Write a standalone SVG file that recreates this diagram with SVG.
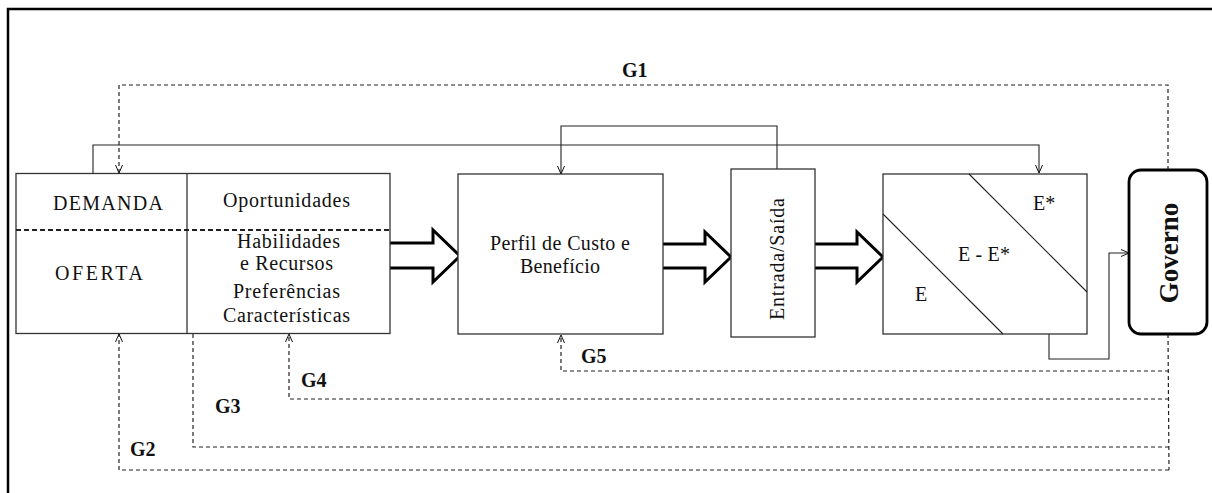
<svg xmlns="http://www.w3.org/2000/svg" width="1212" height="493" viewBox="0 0 1212 493">
<defs>
<marker id="ah" viewBox="0 0 8 8" refX="8" refY="4" markerWidth="8" markerHeight="8" markerUnits="userSpaceOnUse" orient="auto">
<path d="M0,0.5 L8,4 L0,7.5" fill="none" stroke="#111" stroke-width="1"/>
</marker>
</defs>
<style>
.box{fill:#fff;stroke:#333;stroke-width:1.3}
.t{font-family:"Liberation Serif","Times New Roman",serif;font-size:20px;fill:#111}
.g{font-family:"Liberation Serif","Times New Roman",serif;font-size:20px;font-weight:bold;fill:#111}
.solid{fill:none;stroke:#222;stroke-width:1.1}
.dash{fill:none;stroke:#222;stroke-width:1.2;stroke-dasharray:4 3}
.big{fill:#fff;stroke:#000;stroke-width:3;stroke-linejoin:miter}
</style>
<rect width="1212" height="493" fill="#fff"/>
<path d="M8,493 L8,9 L1212,9" fill="none" stroke="#000" stroke-width="2.5"/>

<g id="connectors">
<path class="solid" d="M93,173 L93,145 L1039,145 L1039,173" marker-end="url(#ah)"/>
<path class="solid" d="M777,169 L777,126 L561,126 L561,174" marker-end="url(#ah)"/>
<path class="solid" d="M1049,334 L1049,359 L1109,359 L1109,253 L1129,253" marker-end="url(#ah)"/>
<path class="dash" d="M1168,170 L1168,85 L119,85 L119,173" marker-end="url(#ah)"/>
<path class="dash" d="M1168,334 L1169,470"/>
<path class="dash" d="M1169,371 L561,371 L561,335" marker-end="url(#ah)"/>
<path class="dash" d="M1169,399 L289,399 L289,334" marker-end="url(#ah)"/>
<path class="dash" d="M1169,447 L193,447 L193,266 L217,266" marker-end="url(#ah)"/>
<path class="dash" d="M1169,470 L119,470 L119,334" marker-end="url(#ah)"/>
<path class="big" d="M390,243 L433,243 L433,230 L460,256 L433,282 L433,268 L390,268"/>
<path class="big" d="M663,244 L705,244 L705,232 L731,257 L705,282 L705,268 L663,268"/>
<path class="big" d="M815,244 L857,244 L857,232 L883,257 L857,282 L857,268 L815,268"/>
<text class="g" x="622" y="77">G1</text>
<text class="g" x="130" y="456">G2</text>
<text class="g" x="215" y="413">G3</text>
<text class="g" x="301" y="387">G4</text>
<text class="g" x="581" y="363">G5</text>
</g>

<g id="node-oferta-demanda">
<rect class="box" x="16" y="173.5" width="374" height="160"/>
<line x1="187" y1="173.5" x2="187" y2="333.5" stroke="#333" stroke-width="1.3"/>
<line x1="16" y1="230" x2="390" y2="230" stroke="#222" stroke-width="2" stroke-dasharray="5 3"/>
<text class="t" x="108" y="210" text-anchor="middle" textLength="110">DEMANDA</text>
<text class="t" x="99" y="280" text-anchor="middle" textLength="88">OFERTA</text>
<text class="t" x="286.5" y="207" text-anchor="middle" textLength="127">Oportunidades</text>
<text class="t" x="288.5" y="248" text-anchor="middle" textLength="103">Habilidades</text>
<text class="t" x="286.5" y="270" text-anchor="middle" textLength="93">e Recursos</text>
<text class="t" x="286.5" y="298" text-anchor="middle" textLength="107">Preferências</text>
<text class="t" x="286.5" y="322" text-anchor="middle" textLength="127">Características</text>
</g>

<g id="node-perfil">
<rect class="box" x="458" y="174" width="205" height="160"/>
<text class="t" x="560" y="250" text-anchor="middle" textLength="140">Perfil de Custo e</text>
<text class="t" x="560" y="273" text-anchor="middle" textLength="80">Benefício</text>
</g>

<g id="node-entrada">
<rect class="box" x="731" y="169" width="84" height="168"/>
<text class="t" transform="translate(784,259) rotate(-90)" text-anchor="middle" textLength="122">Entrada/Saída</text>
</g>

<g id="node-e">
<rect class="box" x="883" y="174" width="204" height="160"/>
<line x1="883" y1="214" x2="1003" y2="334" stroke="#222" stroke-width="1.1"/>
<line x1="969" y1="174" x2="1087" y2="292" stroke="#222" stroke-width="1.1"/>
<text class="t" x="1033" y="210">E*</text>
<text class="t" x="958" y="261" textLength="52">E - E*</text>
<text class="t" x="915" y="301">E</text>
</g>

<g id="node-governo">
<rect x="1129" y="170" width="78" height="164" rx="12" fill="#fff" stroke="#000" stroke-width="2.8"/>
<text transform="translate(1178,253) rotate(-90)" text-anchor="middle" font-family="Liberation Serif, Times New Roman, serif" font-size="27" font-weight="bold" fill="#111">Governo</text>
</g>
</svg>
